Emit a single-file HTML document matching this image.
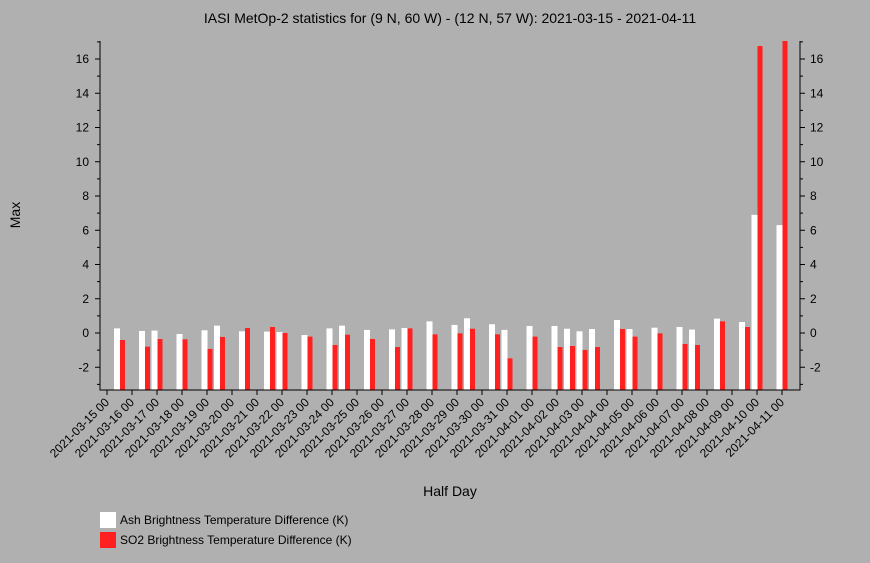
<!DOCTYPE html>
<html><head><meta charset="utf-8">
<style>
body{margin:0;background:#b0b0b0;}
svg{display:block;font-family:"Liberation Sans",sans-serif;}
</style></head>
<body>
<svg id="chart" width="870" height="563" xmlns="http://www.w3.org/2000/svg">
<rect width="870" height="563" fill="#b0b0b0"/>
<text x="450" y="23" text-anchor="middle" font-size="14" fill="#000">IASI MetOp-2 statistics for (9 N, 60 W) - (12 N, 57 W): 2021-03-15 - 2021-04-11</text>
<text x="20" y="215" text-anchor="middle" font-size="14" transform="rotate(-90 20 215)">Max</text>
<text x="450" y="496" text-anchor="middle" font-size="14">Half Day</text>
<g id="plot"></g>
<g>
<rect x="100" y="512" width="16" height="16" fill="#fff"/>
<text x="120" y="524" font-size="12">Ash Brightness Temperature Difference (K)</text>
<rect x="100" y="532" width="16" height="16" fill="#ff2020"/>
<text x="120" y="544" font-size="12">SO2 Brightness Temperature Difference (K)</text>
</g>
</svg>
<script>
const slots = [1,3,4,6,8,9,11,13,14,16,18,19,21,23,24,26,28,29,31,32,34,36,37,38,39,41,42,44,46,47,49,51,52,54];
const ashValues = [0.27,0.12,0.14,-0.06,0.16,0.43,0.1,0.08,0.06,-0.12,0.27,0.43,0.18,0.21,0.29,0.68,0.47,0.86,0.51,0.18,0.41,0.41,0.25,0.1,0.23,0.76,0.23,0.31,0.35,0.2,0.84,0.64,6.9,6.3];
const so2Values = [-0.41,-0.8,-0.35,-0.37,-0.93,-0.23,0.29,0.35,0,-0.21,-0.7,-0.1,-0.35,-0.82,0.27,-0.08,-0.02,0.25,-0.08,-1.48,-0.21,-0.82,-0.76,-0.99,-0.82,0.23,-0.21,-0.02,-0.64,-0.7,0.68,0.35,16.76,17.5];
const yTicks = [-2,0,2,4,6,8,10,12,14,16];
const dayLabels = ["2021-03-15 00","2021-03-16 00","2021-03-17 00","2021-03-18 00","2021-03-19 00","2021-03-20 00","2021-03-21 00","2021-03-22 00","2021-03-23 00","2021-03-24 00","2021-03-25 00","2021-03-26 00","2021-03-27 00","2021-03-28 00","2021-03-29 00","2021-03-30 00","2021-03-31 00","2021-04-01 00","2021-04-02 00","2021-04-03 00","2021-04-04 00","2021-04-05 00","2021-04-06 00","2021-04-07 00","2021-04-08 00","2021-04-09 00","2021-04-10 00","2021-04-11 00"];

const NS="http://www.w3.org/2000/svg";
const g=document.getElementById('plot');
const L=100,R=800,T=41,B=390;
const ys=v=>333-v*17.125;
const xs=k=>107+12.5*k;
const yc=v=>Math.max(T,Math.min(B,ys(v)));
function el(t,a){const e=document.createElementNS(NS,t);for(const k in a)e.setAttribute(k,a[k]);g.appendChild(e);return e;}

slots.forEach((k,i)=>{
  const cx=xs(k);
  const a=el('rect',{x:cx-5.5,y:yc(ashValues[i]),width:6,height:B-yc(ashValues[i]),fill:'#fff'});
  
  
  const s=el('rect',{x:cx+0.5,y:yc(so2Values[i]),width:5,height:B-yc(so2Values[i]),fill:'#ff2020'});
  
  
});

const ax=el('path',{d:`M${L},${T}V${B}H${R}V${T}`,fill:'none',stroke:'#000','stroke-width':1});



for(let v=-3;v<=17;v++){
  const y=ys(v); const major=yTicks.includes(v); const len=major?5:3;
  const t=el('path',{d:`M${L},${y}h-${len}M${R},${y}h${len}`,stroke:'#000','stroke-width':1});
  
  
}
yTicks.forEach(v=>{
  const y=ys(v);
  const a=el('text',{x:L-11,y:y+4,'text-anchor':'end','font-size':12});
  a.textContent=v;
  
  
  const b=el('text',{x:R+10,y:y+4,'font-size':12});
  b.textContent=v;
  
  
});
dayLabels.forEach((lab,i)=>{
  const x=xs(2*i);
  const t=el('path',{d:`M${x},${B}v5`,stroke:'#000','stroke-width':1});
  
  
  const tx=el('text',{x:x+3,y:B+13,'text-anchor':'end','font-size':12,transform:`rotate(-45 ${x+3} ${B+13})`});
  tx.textContent=lab;
  
  
});
</script>
</body></html>
